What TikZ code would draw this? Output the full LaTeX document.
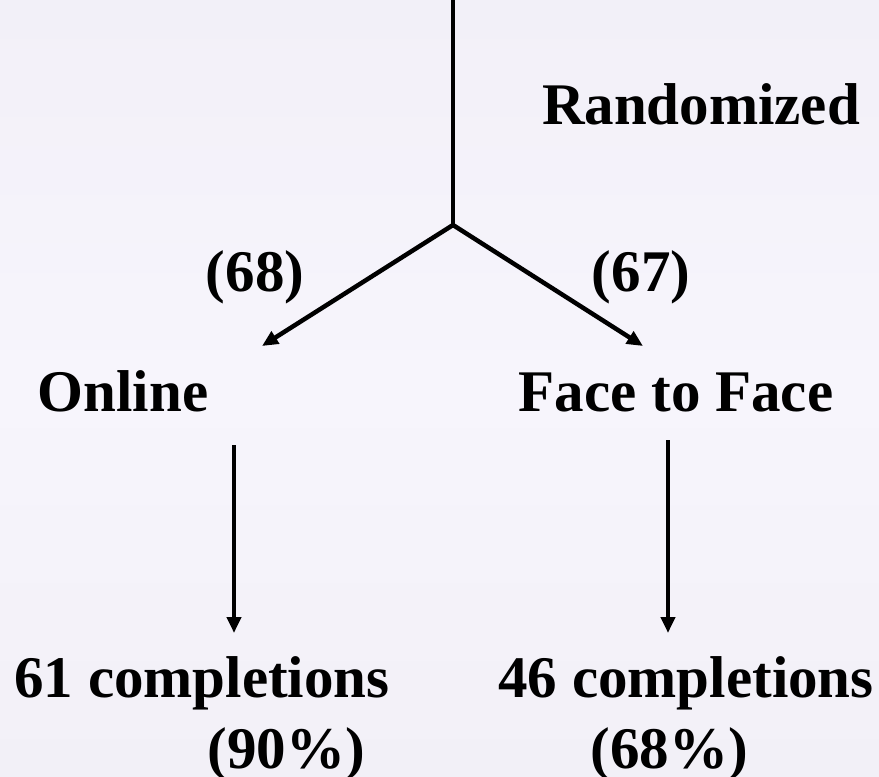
\documentclass[tikz,border=0pt]{standalone}
\usepackage{fontspec}
\setmainfont{Liberation Serif}
\usetikzlibrary{arrows.meta}

\definecolor{bgtop}{RGB}{242,240,248}
\definecolor{bgmid}{RGB}{247,245,252}
\definecolor{bgbot}{RGB}{242,240,247}

\begin{document}
\begin{tikzpicture}[x=1pt,y=-1pt,
  lbl/.style={anchor=base,inner sep=0pt,font=\fontsize{59}{60}\selectfont\bfseries},
  arr/.style={line width=4.5pt,-{Triangle[length=16pt,width=14pt]}}]
\shade[top color=bgtop,bottom color=bgbot,middle color=bgmid] (0,0) rectangle (879,777);
\useasboundingbox (0,0) rectangle (879,777);
\node[lbl] (rand) at (701,124) {Randomized};
\node[lbl] (n68) at (255,291) {(68)};
\node[lbl] (n67) at (641,291) {(67)};
\node[lbl] (online) at (123,411) {Online};
\node[lbl] (f2f) at (676,411) {Face to Face};
\node[lbl] (c61) at (202,697) {61 completions};
\node[lbl] (p90) at (286,768) {(90\%)};
\node[lbl] (c46) at (686,697) {46 completions};
\node[lbl] (p68) at (669,768) {(68\%)};
\coordinate (top) at (453,0);
\coordinate (split) at (453,225);
\coordinate (tipL) at (262,346);
\coordinate (tipR) at (643,346);
\coordinate (s1) at (234,445);
\coordinate (t1) at (234,633);
\coordinate (s2) at (668,440);
\coordinate (t2) at (668,633);
\draw[line width=4.5pt] (top) -- (split);
\foreach \from/\to in {split/tipL,split/tipR,s1/t1,s2/t2}
\draw[arr] (\from) -- (\to);
\end{tikzpicture}
\end{document}
